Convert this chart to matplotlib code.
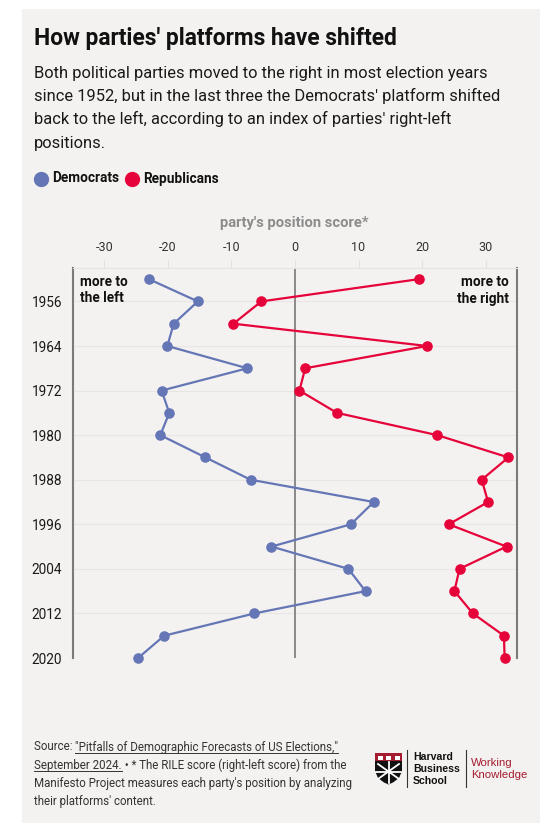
import matplotlib
matplotlib.use("Agg")
import matplotlib.pyplot as plt
from matplotlib.patches import Rectangle, Polygon
from matplotlib.lines import Line2D

# ---------------- data ----------------
years = [1952, 1956, 1960, 1964, 1968, 1972, 1976, 1980, 1984,
         1988, 1992, 1996, 2000, 2004, 2008, 2012, 2016, 2020]
democrats = [-23.0, -15.3, -19.1, -20.1, -7.5, -21.0, -19.8, -21.2, -14.1,
             -7.0, 12.4, 8.8, -3.7, 8.4, 11.1, -6.4, -20.6, -24.7]
republicans = [19.5, -5.3, -9.7, 20.8, 1.6, 0.7, 6.6, 22.4, 33.6,
               29.4, 30.4, 24.2, 33.3, 25.9, 25.1, 28.0, 32.9, 33.0]
x_ticks = [-30, -20, -10, 0, 10, 20, 30]
year_ticks = [1956, 1964, 1972, 1980, 1988, 1996, 2004, 2012, 2020]

DEM = "#6576B6"
REP = "#E5033A"
BG = "#F4F2F0"

W, H = 560, 839
FONT = ["Roboto", "DejaVu Sans"]
plt.rcParams["font.family"] = FONT


def fx(x):
    return x / W


def fy(y):
    return 1 - y / H


fig = plt.figure(figsize=(W / 100, H / 100), dpi=100)
fig.patch.set_facecolor("white")
fig.patches.append(Rectangle((fx(22), fy(823)), 518 / W, 814 / H,
                             transform=fig.transFigure, facecolor=BG,
                             edgecolor="none", zorder=-5))

# ---------------- header ----------------
fig.text(fx(34), fy(45), "How parties' platforms have shifted", fontsize=16.4,
         fontweight="bold", color="#111111", va="baseline", ha="left")
sub = ["Both political parties moved to the right in most election years",
       "since 1952, but in the last three the Democrats' platform shifted",
       "back to the left, according to an index of parties' right-left",
       "positions."]
for i, line in enumerate(sub):
    fig.text(fx(34), fy(78 + 23.2 * i), line, fontsize=11.9, color="#1a1a1a",
             va="baseline", ha="left")

# legend
for cx, lx, lab, col in [(41, 52, "Democrats", DEM), (132, 143, "Republicans", REP)]:
    fig.add_artist(Line2D([fx(cx)], [fy(178.5)], marker="o", markersize=10,
                          color=col, transform=fig.transFigure, linestyle="none"))
    fig.text(fx(lx), fy(182.5), lab, fontsize=9.8, fontweight="bold",
             color="#111111", va="baseline", ha="left")

# ---------------- chart ----------------
ax = fig.add_axes([fx(72.7), fy(658), (517.3 - 72.7) / W, (658 - 268) / H])
ax.set_facecolor("none")
ax.set_xlim(-35, 35)
ax.set_ylim(2020, 1950)

ax.set_yticks(year_ticks)
ax.set_yticklabels([str(y) for y in year_ticks])
ax.set_xticks(x_ticks)
ax.set_xticklabels([str(v) for v in x_ticks])
ax.xaxis.tick_top()
ax.tick_params(axis="x", length=5.8, width=0.8, color="#E4E2E0", pad=4,
               labelsize=9, labelcolor="#333333")
ax.tick_params(axis="y", length=0, pad=7.5, labelsize=9.8, labelcolor="#1a1a1a")

for yv in year_ticks:
    ax.axhline(yv, color="#E8E6E4", lw=0.8, zorder=1)

for s in ["left", "right"]:
    ax.spines[s].set_color("#7A7A7A")
    ax.spines[s].set_linewidth(1.5)
ax.spines["top"].set_color("#E6E4E2")
ax.spines["top"].set_linewidth(0.8)
ax.spines["bottom"].set_visible(False)
ax.axvline(0, color="#8A8A8A", lw=1.4, zorder=2)

ax.plot(democrats, years, color=DEM, lw=1.6, marker="o", markersize=6.6,
        zorder=4, clip_on=False)
ax.plot(republicans, years, color=REP, lw=1.6, marker="o", markersize=6.6,
        zorder=4, clip_on=False)

fig.text(fx(294), fy(227), "party's position score*", fontsize=10.6,
         fontweight="bold", color="#8C8C8C", ha="center", va="baseline")

fig.text(fx(80), fy(285.5), "more to", fontsize=9.8, fontweight="bold",
         color="#111111", ha="left", va="baseline")
fig.text(fx(80), fy(302.5), "the left", fontsize=9.8, fontweight="bold",
         color="#111111", ha="left", va="baseline")
fig.text(fx(509), fy(285.5), "more to", fontsize=9.8, fontweight="bold",
         color="#111111", ha="right", va="baseline")
fig.text(fx(509), fy(302.5), "the right", fontsize=9.8, fontweight="bold",
         color="#111111", ha="right", va="baseline")

# ---------------- footer ----------------
FS = 8.3
FC = "#333333"
renderer = fig.canvas.get_renderer()


def seg(x, y, s, underline=False):
    t = fig.text(fx(x), fy(y), s, fontsize=FS, color=FC, ha="left", va="baseline")
    bb = t.get_window_extent(renderer=renderer)
    if underline:
        fig.add_artist(Line2D([bb.x0 / W, bb.x1 / W], [fy(y + 2), fy(y + 2)],
                              color=FC, lw=0.7, transform=fig.transFigure))
    return bb.x1


y0 = 750.5
dy = 18.3
x1 = seg(34, y0, "Source: ")
seg(x1, y0, "\"Pitfalls of Demographic Forecasts of US Elections,\"", True)
x2 = seg(34, y0 + dy, "September 2024.", True)
seg(x2, y0 + dy, " \u2022 * The RILE score (right-left score) from the")
seg(34, y0 + 2 * dy, "Manifesto Project measures each party's position by analyzing")
seg(34, y0 + 3 * dy, "their platforms' content.")

# logo
CRIMSON = "#A51C30"
shield = [(375, 753), (402, 753), (402, 771), (399, 778), (393, 782.5), (388.5, 784.5),
          (384, 782.5), (378, 778), (375, 771)]
fig.patches.append(Polygon([(fx(a), fy(b)) for a, b in shield], closed=True,
                           transform=fig.transFigure, facecolor="#111111",
                           edgecolor="none", zorder=3))
fig.patches.append(Rectangle((fx(375), fy(761)), 27 / W, 8 / H,
                             transform=fig.transFigure, facecolor=CRIMSON,
                             edgecolor="none", zorder=4))
for bx in [377.5, 386, 394.5]:
    fig.patches.append(Rectangle((fx(bx), fy(759.5)), 5 / W, 4 / H,
                                 transform=fig.transFigure, facecolor="white",
                                 edgecolor="none", zorder=5))
for (a, b, c, d) in [(378, 764, 399, 779), (399, 764, 378, 779), (388.5, 762, 388.5, 783),
                     (376, 771.5, 401, 771.5)]:
    fig.add_artist(Line2D([fx(a), fx(c)], [fy(b), fy(d)], color="white", lw=1.3,
                          transform=fig.transFigure, zorder=5))
for lx in [407, 466]:
    fig.add_artist(Line2D([fx(lx), fx(lx)], [fy(750), fy(787)], color="#333333",
                          lw=0.8, transform=fig.transFigure))
for i, s in enumerate(["Harvard", "Business", "School"]):
    fig.text(fx(413), fy(760.5 + 11.5 * i), s, fontsize=7.6, fontweight="bold",
             color="#111111", ha="left", va="baseline",
             family=["Liberation Sans", "DejaVu Sans"])
for i, s in enumerate(["Working", "Knowledge"]):
    fig.text(fx(471), fy(766.5 + 11.5 * i), s, fontsize=8.2, color=CRIMSON,
             ha="left", va="baseline", family=["Liberation Sans", "DejaVu Sans"])

fig.savefig("out.png", dpi=100, facecolor="white")
